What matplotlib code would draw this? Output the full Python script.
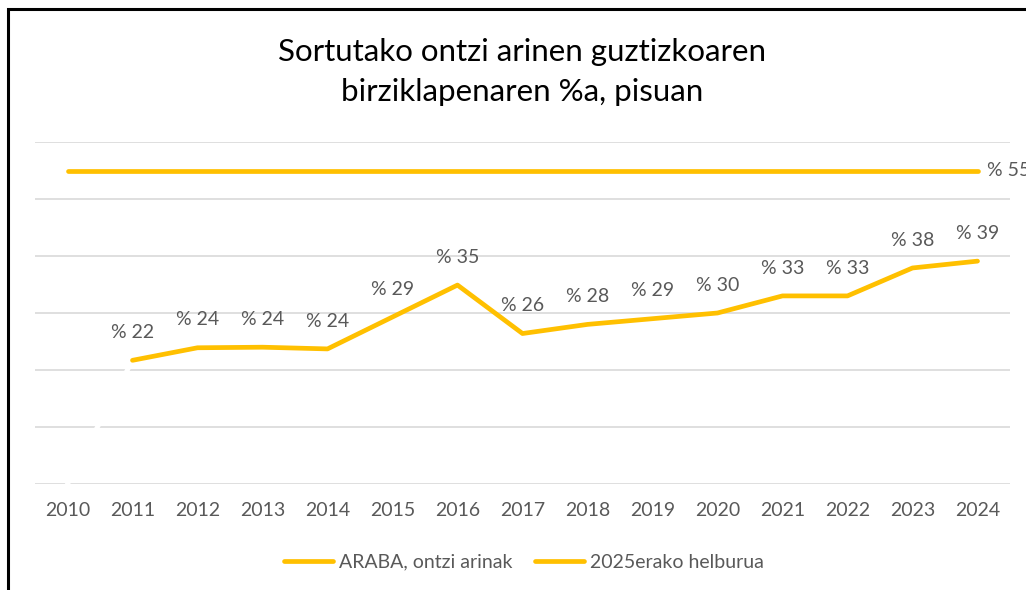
import matplotlib.pyplot as plt
from matplotlib.patches import Rectangle

years = ['2010', '2011', '2012', '2013', '2014', '2015', '2016', '2017',
         '2018', '2019', '2020', '2021', '2022', '2023', '2024']
araba = [None, 21.7, 23.9, 24.0, 23.7, 29.3, 34.9, 26.4, 28.0, 29.0, 30.0, 33.0, 33.0, 37.9, 39.1]
araba_labels = ['', '% 22', '% 24', '% 24', '% 24', '% 29', '% 35', '% 26', '% 28', '% 29', '% 30',
                '% 33', '% 33', '% 38', '% 39']
hidden_2010 = 0  # Excel draws the empty 2010 point in white
target = [55] * len(years)
target_label = '% 55'

orange = '#FFC000'
gray = '#595959'
plt.rcParams['font.family'] = ['Lato', 'DejaVu Sans']

fig = plt.figure(figsize=(10.26, 5.9), dpi=100)
ax = fig.add_axes([35 / 1026, 1 - 484 / 590, 975 / 1026, 342 / 590])

x = list(range(len(years)))
xs = [i for i, v in zip(x, araba) if v is not None]
ys = [v for v in araba if v is not None]

# white connector from the missing 2010 point
ax.plot([0, 1], [hidden_2010, araba[1]], color='white', lw=3.5, zorder=2)
ax.plot(x, target, color=orange, lw=3.4, solid_capstyle='round', zorder=3,
        label='2025erako helburua')
ax.plot(xs, ys, color=orange, lw=3.4, solid_capstyle='round', solid_joinstyle='round',
        zorder=3, label='ARABA, ontzi arinak')

for i, v in zip(xs, ys):
    ax.annotate(araba_labels[i], (i, v), xytext=(0, 20), textcoords='offset points',
                ha='center', va='center', fontsize=14, color=gray)
ax.annotate(target_label, (x[-1], target[-1]), xytext=(7, 0), textcoords='offset points',
            ha='left', va='center', fontsize=14, color=gray, annotation_clip=False)

ax.set_xlim(-0.5, len(years) - 0.5)
ax.set_ylim(0, 60)
ax.set_yticks(range(0, 61, 10))
ax.yaxis.grid(True, color='#d9d9d9', lw=1.2)
ax.set_axisbelow(True)
ax.set_yticklabels([])
ax.tick_params(axis='y', length=0)
ax.set_xticks(x)
ax.set_xticklabels(years, fontsize=14, color=gray)
ax.tick_params(axis='x', length=0, pad=13)
for s in ax.spines.values():
    s.set_visible(False)

fig.text(522 / 1026, 1 - 72 / 590, 'Sortutako ontzi arinen guztizkoaren\nbirziklapenaren %a, pisuan',
         ha='center', va='center', fontsize=22.5, color='black', linespacing=1.55)

handles, labels = ax.get_legend_handles_labels()
leg = fig.legend(handles[::-1], labels[::-1], loc='center', bbox_to_anchor=(524 / 1026, 1 - 562 / 590),
                 ncol=2, frameon=False, fontsize=14, handlelength=2.5, handletextpad=0.3,
                 columnspacing=1.2, labelcolor=gray)

fig.patches.append(Rectangle((8 / 1026, -0.1), 1.2, 1 - 9 / 590 + 0.1, transform=fig.transFigure,
                             fill=False, edgecolor='black', lw=2.2))

fig.savefig('out.png', dpi=100)
